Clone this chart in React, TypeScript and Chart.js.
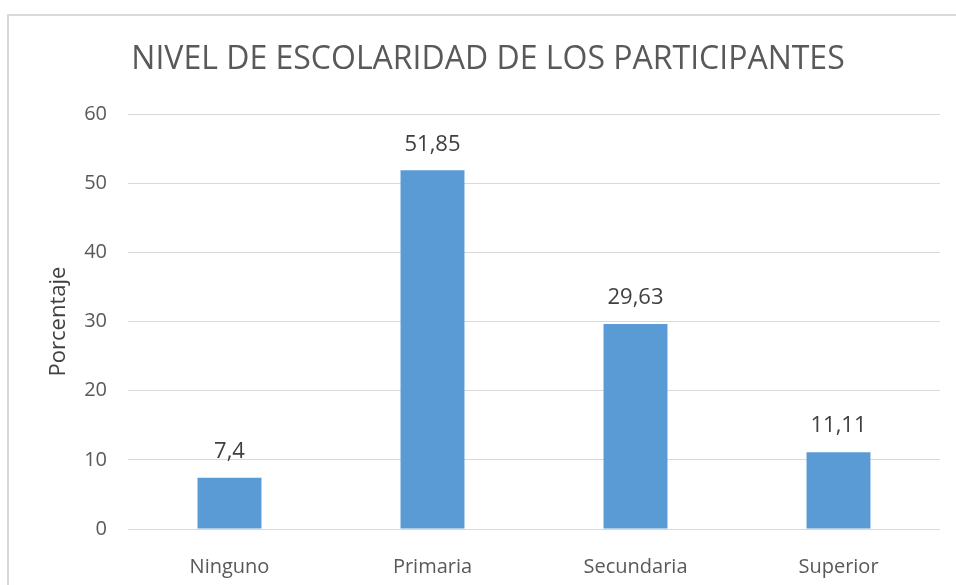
import React, { useEffect, useRef } from "react";
import { Chart, registerables } from "chart.js";

Chart.register(...registerables);

const categories = ["Ninguno", "Primaria", "Secundaria", "Superior"];
const values = [7.4, 51.85, 29.63, 11.11];
const valueLabels = ["7,4", "51,85", "29,63", "11,11"];
const yTicks = [0, 10, 20, 30, 40, 50, 60];
const titleText = "NIVEL DE ESCOLARIDAD DE LOS PARTICIPANTES";
const yAxisTitle = "Porcentaje";

const FONT = "'Open Sans', 'Noto Sans', sans-serif";

const overlayPlugin = {
  id: "overlay",
  afterDraw(chart: any) {
    const ctx = chart.ctx;
    ctx.save();
    // frame
    ctx.strokeStyle = "#d9d9d9";
    ctx.lineWidth = 2;
    ctx.beginPath();
    ctx.moveTo(8, 600);
    ctx.lineTo(8, 15);
    ctx.lineTo(1000, 15);
    ctx.stroke();
    // title
    ctx.fillStyle = "#595959";
    ctx.font = `32px ${FONT}`;
    ctx.textAlign = "center";
    ctx.textBaseline = "middle";
    ctx.fillText(titleText, 488, 60);
    // value labels
    const meta = chart.getDatasetMeta(0);
    ctx.font = `22px ${FONT}`;
    ctx.fillStyle = "#404040";
    meta.data.forEach((bar: any, i: number) => {
      ctx.fillText(valueLabels[i], bar.x, bar.y - 26);
    });
    ctx.restore();
  },
};

export default function App() {
  const ref = useRef<HTMLCanvasElement>(null);
  useEffect(() => {
    if (!ref.current) return;
    const chart = new Chart(ref.current, {
      type: "bar",
      data: {
        labels: categories,
        datasets: [
          {
            data: values,
            backgroundColor: "#5b9bd5",
            categoryPercentage: 1,
            barPercentage: 0.315,
          },
        ],
      },
      options: {
        responsive: false,
        animation: false,
        maintainAspectRatio: false,
        layout: { padding: { left: 0, right: 16, top: 114, bottom: 0 } },
        plugins: {
          legend: { display: false },
          title: { display: false },
          tooltip: { enabled: false },
        },
        scales: {
          x: {
            grid: { display: false },
            border: { display: false },
            ticks: {
              color: "#595959",
              font: { size: 20, family: FONT },
              padding: 18,
            },
            afterFit(scale: any) {
              scale.height = 56;
            },
          },
          y: {
            min: 0,
            max: 60,
            afterBuildTicks(scale: any) {
              scale.ticks = yTicks.map((v) => ({ value: v }));
            },
            grid: { color: "#d9d9d9", lineWidth: 1, drawTicks: false },
            border: { display: false },
            ticks: {
              color: "#595959",
              font: { size: 20, family: FONT },
              padding: 21,
            },
            title: {
              display: true,
              text: yAxisTitle,
              color: "#404040",
              font: { size: 22, family: FONT },
              padding: { top: 46, bottom: 0 },
            },
            afterFit(scale: any) {
              scale.width = 128;
            },
          },
        },
      },
      plugins: [overlayPlugin],
    });
    return () => chart.destroy();
  }, []);
  return (
    <div style={{ position: "absolute", left: 0, top: 0, width: 956, height: 585, background: "#fff" }}>
      <canvas ref={ref} width={956} height={585} style={{ display: "block" }} />
    </div>
  );
}
